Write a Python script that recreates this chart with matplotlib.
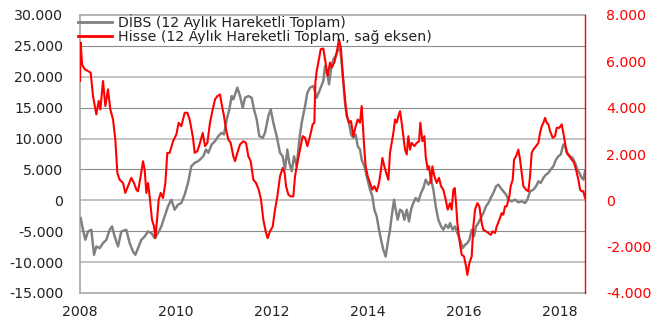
import numpy as np
import matplotlib
matplotlib.use("Agg")
import matplotlib.pyplot as plt
from matplotlib.lines import Line2D

# ---------------- data ----------------
# DİBS, 12-month rolling total (thousands), left axis
dibs_t = [2008.014, 2008.063, 2008.111, 2008.167, 2008.236, 2008.292, 2008.340, 2008.410, 2008.479, 2008.549,
          2008.618, 2008.667, 2008.722, 2008.792, 2008.861, 2008.965, 2009.035, 2009.104, 2009.153, 2009.208,
          2009.278, 2009.347, 2009.417, 2009.486, 2009.556, 2009.625, 2009.694, 2009.764, 2009.833, 2009.903,
          2009.972, 2010.042, 2010.111, 2010.181, 2010.250, 2010.319, 2010.389, 2010.458,
          2010.500, 2010.569, 2010.625, 2010.674, 2010.743, 2010.813, 2010.882, 2010.951, 2011.000, 2011.056,
          2011.111, 2011.160, 2011.194, 2011.278, 2011.333, 2011.389, 2011.438, 2011.507, 2011.576, 2011.625,
          2011.681, 2011.736, 2011.806, 2011.854, 2011.924, 2011.972, 2012.028, 2012.097, 2012.167, 2012.222,
          2012.271, 2012.319, 2012.361, 2012.410, 2012.458, 2012.514, 2012.569, 2012.618, 2012.688, 2012.736,
          2012.792, 2012.861, 2012.931, 2013.000, 2013.069,
          2013.104, 2013.160, 2013.188, 2013.229, 2013.278, 2013.326, 2013.368, 2013.417, 2013.451, 2013.486,
          2013.521, 2013.556, 2013.604, 2013.646, 2013.694, 2013.743, 2013.785, 2013.833, 2013.868, 2013.924,
          2013.972, 2014.042, 2014.090, 2014.132, 2014.181, 2014.229, 2014.271, 2014.319, 2014.368, 2014.410,
          2014.458, 2014.493, 2014.542, 2014.576, 2014.618, 2014.667, 2014.715, 2014.757, 2014.806, 2014.854,
          2014.896, 2014.944, 2014.993, 2015.049, 2015.104, 2015.153, 2015.201, 2015.257, 2015.313, 2015.361,
          2015.410, 2015.465, 2015.521, 2015.569, 2015.618, 2015.674,
          2015.708, 2015.764, 2015.813, 2015.861, 2015.917, 2015.972, 2016.021, 2016.069, 2016.111, 2016.160,
          2016.208, 2016.250, 2016.299, 2016.347, 2016.403, 2016.458, 2016.507, 2016.556, 2016.611, 2016.667,
          2016.715, 2016.764, 2016.819, 2016.875, 2016.924, 2016.993, 2017.063, 2017.132, 2017.201, 2017.271,
          2017.319, 2017.375, 2017.444, 2017.500, 2017.549, 2017.597, 2017.653, 2017.708, 2017.757, 2017.806,
          2017.861, 2017.917, 2017.965, 2018.014, 2018.069, 2018.104, 2018.153, 2018.208, 2018.264, 2018.313,
          2018.361, 2018.403, 2018.451, 2018.486, 2018.521]
dibs_thousands = [-2.87, -4.76, -6.39, -5.03, -4.76, -8.82, -7.47, -7.74, -6.93, -6.39,
                  -4.76, -4.22, -5.84, -7.47, -5.03, -4.76, -6.93, -8.28, -8.82, -7.74,
                  -6.39, -5.84, -5.03, -5.30, -6.11, -5.30, -4.22, -2.60, -0.97, 0.11,
                  -1.52, -0.70, -0.43, 0.92, 2.81, 5.52, 6.06, 6.33,
                  6.60, 7.14, 8.23, 7.68, 9.04, 9.58, 10.39, 10.93, 10.66, 13.10,
                  14.72, 16.88, 16.34, 18.24, 16.88, 14.99, 16.61, 16.88, 16.61, 14.72,
                  13.10, 10.39, 10.12, 10.93, 13.64, 14.72, 12.55, 10.39, 7.68, 7.14,
                  4.98, 8.23, 6.06, 4.71, 7.14, 5.52, 9.85, 12.55, 15.26, 17.42,
                  18.24, 18.51, 16.61, 17.97, 19.32,
                  21.75, 20.13, 18.78, 21.21, 22.84, 23.38, 24.19, 24.73, 22.29, 19.05,
                  15.80, 13.64, 12.55, 10.66, 10.12, 10.66, 8.77, 8.23, 6.60, 5.52,
                  3.90, 1.73, 0.65, -1.52, -2.60, -4.76, -6.39, -8.01, -9.09, -6.93,
                  -4.76, -2.60, 0.11, -1.52, -3.14, -1.52, -1.79, -3.14, -1.52, -3.41,
                  -1.52, -0.43, 0.38, -0.16, 1.19, 2.00, 3.35, 2.54, 3.35, 1.73,
                  -0.97, -3.14, -4.22, -4.76, -3.95, -4.49,
                  -3.68, -4.76, -4.22, -5.30, -6.39, -7.74, -7.20, -6.93, -6.39, -4.76,
                  -5.84, -4.22, -3.68, -2.87, -2.06, -0.97, -0.43, 0.38, 1.19, 2.27,
                  2.54, 2.00, 1.46, 0.92, 0.11, -0.16, 0.11, -0.32, -0.16, -0.43,
                  0.11, 1.46, 1.73, 2.27, 3.08, 2.81, 3.63, 4.17, 4.44, 4.98,
                  5.52, 6.60, 7.14, 7.41, 9.04, 8.77, 7.68, 7.14, 6.87, 6.06,
                  4.98, 4.44, 3.63, 3.35, 4.71]

# Hisse, 12-month rolling total (thousands), right axis
hisse_t = [2008.000, 2008.014, 2008.042, 2008.097, 2008.167, 2008.222, 2008.271, 2008.340, 2008.389, 2008.424,
           2008.479, 2008.528, 2008.583, 2008.632, 2008.688, 2008.736, 2008.778, 2008.826, 2008.896, 2008.944,
           2009.000, 2009.069, 2009.125, 2009.174, 2009.208, 2009.264, 2009.313, 2009.347, 2009.382, 2009.417,
           2009.451, 2009.500, 2009.542, 2009.569, 2009.611, 2009.639, 2009.681, 2009.729, 2009.778, 2009.819,
           2009.868, 2009.938, 2010.007, 2010.056, 2010.111, 2010.181, 2010.236, 2010.285, 2010.354, 2010.389,
           2010.444,
           2010.500, 2010.556, 2010.604, 2010.653, 2010.708, 2010.764, 2010.813, 2010.861, 2010.917, 2010.958,
           2011.000, 2011.042, 2011.090, 2011.139, 2011.194, 2011.229, 2011.278, 2011.333, 2011.403, 2011.458,
           2011.507, 2011.556, 2011.611, 2011.667, 2011.722, 2011.771, 2011.819, 2011.875, 2011.910, 2011.958,
           2012.014, 2012.063, 2012.111, 2012.167, 2012.222, 2012.264, 2012.292, 2012.340, 2012.389, 2012.444,
           2012.479, 2012.528, 2012.583, 2012.639, 2012.688, 2012.736, 2012.792, 2012.847, 2012.882, 2012.903,
           2012.931, 2012.965, 2013.014, 2013.069,
           2013.104, 2013.160, 2013.208, 2013.243, 2013.299, 2013.347, 2013.396, 2013.438, 2013.465, 2013.507,
           2013.535, 2013.563, 2013.604, 2013.646, 2013.694, 2013.743, 2013.785, 2013.833, 2013.868, 2013.889,
           2013.924, 2013.951, 2013.993, 2014.042, 2014.090, 2014.132, 2014.181, 2014.229, 2014.271, 2014.299,
           2014.340, 2014.389, 2014.424, 2014.458, 2014.493, 2014.528, 2014.563, 2014.597, 2014.632, 2014.667,
           2014.701, 2014.736, 2014.771, 2014.806, 2014.840, 2014.875, 2014.910, 2014.965, 2015.014, 2015.063,
           2015.090, 2015.132, 2015.174, 2015.201, 2015.243, 2015.271, 2015.313, 2015.340, 2015.382, 2015.431,
           2015.479, 2015.521, 2015.569, 2015.618, 2015.660,
           2015.708, 2015.743, 2015.778, 2015.806, 2015.833, 2015.861, 2015.903, 2015.951, 2016.000, 2016.042,
           2016.069, 2016.111, 2016.160, 2016.194, 2016.229, 2016.278, 2016.319, 2016.368, 2016.403, 2016.458,
           2016.507, 2016.556, 2016.597, 2016.646, 2016.681, 2016.736, 2016.785, 2016.819, 2016.854, 2016.889,
           2016.944, 2016.972, 2017.014, 2017.042, 2017.083, 2017.132, 2017.167, 2017.201, 2017.236, 2017.292,
           2017.340, 2017.375, 2017.410, 2017.444, 2017.500, 2017.549, 2017.583, 2017.618, 2017.653, 2017.688,
           2017.722, 2017.757, 2017.792, 2017.847, 2017.896, 2017.931, 2017.986, 2018.035, 2018.069, 2018.104,
           2018.139, 2018.194, 2018.243, 2018.292, 2018.333, 2018.382, 2018.417, 2018.451, 2018.486, 2018.521]
hisse_thousands = [5.15, 6.81, 5.87, 5.66, 5.58, 5.51, 4.50, 3.71, 4.29, 3.92,
                   5.15, 4.07, 4.79, 3.92, 3.49, 2.63, 1.18, 0.89, 0.75, 0.32,
                   0.61, 0.97, 0.75, 0.46, 0.39, 1.04, 1.69, 1.33, 0.32, 0.75,
                   0.17, -0.84, -1.13, -1.63, -0.69, 0.03, 0.32, 0.10, 0.75, 2.05,
                   2.05, 2.55, 2.84, 3.35, 3.20, 3.78, 3.78, 3.49, 2.70, 2.05,
                   2.12,
                   2.48, 2.91, 2.34, 2.48, 3.35, 3.92, 4.36, 4.50, 4.57, 4.07,
                   3.64, 3.06, 2.63, 2.48, 1.90, 1.69, 2.05, 2.41, 2.55, 2.48,
                   1.90, 1.69, 0.89, 0.75, 0.46, 0.03, -0.84, -1.41, -1.63, -1.34,
                   -1.13, -0.40, 0.17, 1.04, 1.40, 1.18, 0.61, 0.25, 0.17, 0.17,
                   1.04, 1.62, 2.19, 2.77, 2.70, 2.34, 2.77, 3.28, 3.35, 5.08,
                   5.58, 5.95, 6.52, 6.55,
                   6.09, 5.37, 5.95, 5.73, 5.95, 6.38, 6.95, 6.52, 5.66, 4.65,
                   4.07, 3.64, 3.35, 3.42, 2.77, 3.20, 3.49, 3.35, 4.07, 3.35,
                   2.19, 1.47, 1.04, 0.75, 0.46, 0.61, 0.39, 0.75, 1.33, 1.83,
                   1.47, 1.11, 0.89, 2.05, 2.48, 2.91, 3.49, 3.35, 3.64, 3.85,
                   3.35, 2.77, 2.19, 1.98, 2.77, 2.19, 2.48, 2.34, 2.48, 2.55,
                   3.35, 2.55, 2.77, 1.90, 1.33, 1.47, 0.75, 1.47, 1.04, 0.75,
                   0.97, 0.61, 0.46, 0.03, -0.40,
                   -0.12, -0.40, 0.46, 0.53, -0.12, -0.98, -1.70, -2.35, -2.42, -2.86,
                   -3.22, -2.71, -2.42, -1.13, -0.40, -0.12, -0.26, -0.98, -1.27, -1.34,
                   -1.41, -1.49, -1.34, -1.41, -1.13, -0.84, -0.55, -0.62, -0.26, -0.26,
                   0.17, 0.61, 0.89, 1.76, 1.90, 2.19, 1.76, 1.18, 0.61, 0.46,
                   0.39, 1.04, 2.05, 2.19, 2.34, 2.48, 2.91, 3.20, 3.35, 3.56,
                   3.35, 3.28, 2.99, 2.70, 2.77, 3.13, 3.13, 3.28, 2.91, 2.48,
                   2.05, 1.90, 1.76, 1.62, 1.33, 0.89, 0.46, 0.39, 0.39, 0.10]

left_ticks = [-15000, -10000, -5000, 0, 5000, 10000, 15000, 20000, 25000, 30000]
left_labels = ["-15.000", "-10.000", "-5.000", "0", "5.000", "10.000", "15.000", "20.000", "25.000", "30.000"]
right_ticks = [-4000, -2000, 0, 2000, 4000, 6000, 8000]
right_labels = ["-4.000", "-2.000", "0", "2.000", "4.000", "6.000", "8.000"]
year_ticks = [2008, 2010, 2012, 2014, 2016, 2018]
year_labels = ["2008", "2010", "2012", "2014", "2016", "2018"]
legend_labels = ["DİBS (12 Aylık Hareketli Toplam)",
                 "Hisse (12 Aylık Hareketli Toplam, sağ eksen)"]

# ---------------- drawing ----------------
plt.rcParams['font.family'] = ['DejaVu Sans']
FS = 10.2
GRAY = "#808080"
RED = "#ff0000"
GRID_LIGHT = "#bdbdbd"
GRID_DARK = "#8c8c8c"
FRAME = "#a0a0a0"

fig = plt.figure(figsize=(6.6, 3.25), dpi=100)
ax = fig.add_axes([80 / 660, 1 - 293 / 325, 505 / 660, 278 / 325])
ax2 = ax.twinx()

ax.plot(dibs_t, np.array(dibs_thousands) * 1000, color=GRAY, lw=1.75, solid_joinstyle="round", zorder=3)
ax2.plot(hisse_t, np.array(hisse_thousands) * 1000, color=RED, lw=1.5, solid_joinstyle="round", zorder=3)

ax.set_xlim(2008, 2018.52)
ax.set_ylim(-15000, 30000)
ax2.set_ylim(-4000, 8000)

ax.set_yticks(left_ticks)
ax.set_yticklabels(left_labels)
ax2.set_yticks(right_ticks)
ax2.set_yticklabels(right_labels)
ax.set_xticks(year_ticks)
ax.set_xticklabels(year_labels)

# horizontal gridlines (alternating rendering as in the reference)
for yv in left_ticks[1:-1]:
    if yv % 10000 == 0:
        ax.axhline(yv, color=GRID_LIGHT, lw=1.3, zorder=1)
    else:
        ax.axhline(yv, color=GRID_DARK, lw=0.8, zorder=1)

ax.tick_params(axis="y", length=0, pad=12, labelsize=FS, labelcolor="#222222")
ax.tick_params(axis="x", length=0, pad=9, labelsize=FS, labelcolor="#222222")
ax2.tick_params(axis="y", length=0, pad=15, labelsize=FS, labelcolor=RED)

for sp in ["left", "bottom", "top"]:
    ax.spines[sp].set_color(FRAME)
    ax.spines[sp].set_linewidth(1.1)
    ax2.spines[sp].set_visible(False)
ax.spines["right"].set_visible(False)
ax2.spines["right"].set_color(RED)
ax2.spines["right"].set_linewidth(1.0)

handles = [Line2D([], [], color=GRAY, lw=2.0), Line2D([], [], color=RED, lw=2.0)]
leg = ax2.legend(handles, legend_labels, loc="upper left", bbox_to_anchor=(-0.004, 1.005),
                 frameon=False, fontsize=FS, handlelength=2.4, handletextpad=0.4,
                 borderpad=0, borderaxespad=0, labelspacing=0.0)
for txt in leg.get_texts():
    txt.set_color("#222222")

fig.savefig("out.png", dpi=100, facecolor="white")
